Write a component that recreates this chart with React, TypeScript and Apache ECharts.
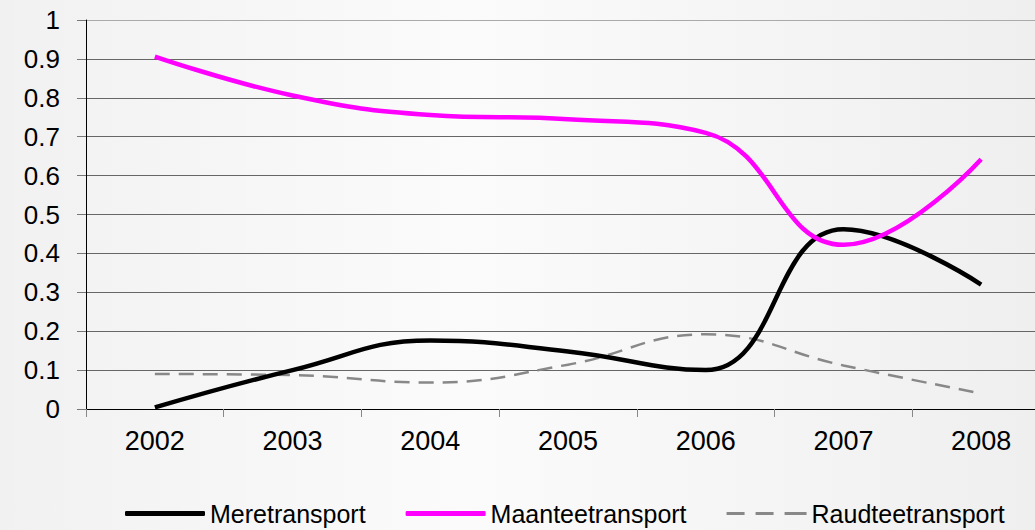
import React, { useEffect, useRef } from "react";
import * as echarts from "echarts";

const years = ["2002", "2003", "2004", "2005", "2006", "2007", "2008"];
const meretransport = [0.004, 0.1, 0.176, 0.148, 0.1, 0.462, 0.32];
const maanteetransport = [0.906, 0.806, 0.756, 0.745, 0.71, 0.422, 0.642];
const raudteetransport = [0.09, 0.087, 0.068, 0.114, 0.192, 0.112, 0.04];

const FONT = "'Liberation Sans', Arial, sans-serif";

export default function App() {
  const ref = useRef<HTMLDivElement>(null);
  useEffect(() => {
    if (!ref.current) return;
    const chart = echarts.init(ref.current, null, { renderer: "svg" });
    const splitColors = ["#666", "#666", "#666", "#666", "#666", "#666", "#666", "#666", "#666", "#666", "#aaa"];
    chart.setOption({
      animation: false,
      backgroundColor: {
        type: "linear",
        x: 0, y: 0, x2: 1, y2: 0,
        colorStops: [
          { offset: 0, color: "#f1f1f1" },
          { offset: 0.45, color: "#fbfbfb" },
          { offset: 1, color: "#efefef" },
        ],
      },
      grid: { left: 86, top: 20, width: 964, height: 389, outerBoundsMode: "none", containLabel: false },
      legend: {
        left: 125,
        top: 501,
        padding: 0,
        itemWidth: 80,
        itemHeight: 5,
        itemGap: 40,
        textStyle: { fontFamily: FONT, fontSize: 25, color: "#000", lineHeight: 25 },
        data: [
          { name: "Meretransport", icon: "roundRect", itemStyle: { color: "#000" } },
          { name: "Maanteetransport", icon: "roundRect", itemStyle: { color: "#ff00ff" } },
          {
            name: "Raudteetransport",
            icon: "path://M0,0h18v3h-18z M29,0h18v3h-18z M58,0h22v3h-22z",
            itemStyle: { color: "#888" },
          },
        ],
      },
      xAxis: {
        type: "category",
        data: years,
        boundaryGap: true,
        axisLine: { lineStyle: { color: "#000", width: 1 } },
        axisTick: { show: true, length: 8, lineStyle: { color: "#888" } },
        axisLabel: { fontFamily: FONT, fontSize: 27, color: "#000", margin: 18 },
      },
      yAxis: {
        type: "value",
        min: 0,
        max: 1,
        interval: 0.1,
        axisLine: { show: true, lineStyle: { color: "#000", width: 1 } },
        axisTick: { show: true, length: 9, lineStyle: { color: "#777" } },
        axisLabel: { fontFamily: FONT, fontSize: 26, color: "#000", margin: 26 },
        splitLine: { show: true, lineStyle: { color: splitColors, width: 1 } },
      },
      series: [
        {
          name: "Meretransport",
          type: "line",
          data: meretransport,
          smooth: 0.45,
          symbol: "none",
          itemStyle: { color: "#000" },
          lineStyle: { color: "#000", width: 4.5 },
          z: 3,
        },
        {
          name: "Maanteetransport",
          type: "line",
          data: maanteetransport,
          smooth: 0.45,
          symbol: "none",
          itemStyle: { color: "#ff00ff" },
          lineStyle: { color: "#ff00ff", width: 4.5 },
          z: 4,
        },
        {
          name: "Raudteetransport",
          type: "line",
          data: raudteetransport,
          smooth: 0.45,
          symbol: "none",
          itemStyle: { color: "#888" },
          lineStyle: { color: "#888", width: 2.5, type: [15, 9] },
          z: 2,
        },
      ],
    });
    return () => chart.dispose();
  }, []);
  return (
    <div
      ref={ref}
      style={{ position: "fixed", left: 0, top: 0, width: 1035, height: 530 }}
    />
  );
}
